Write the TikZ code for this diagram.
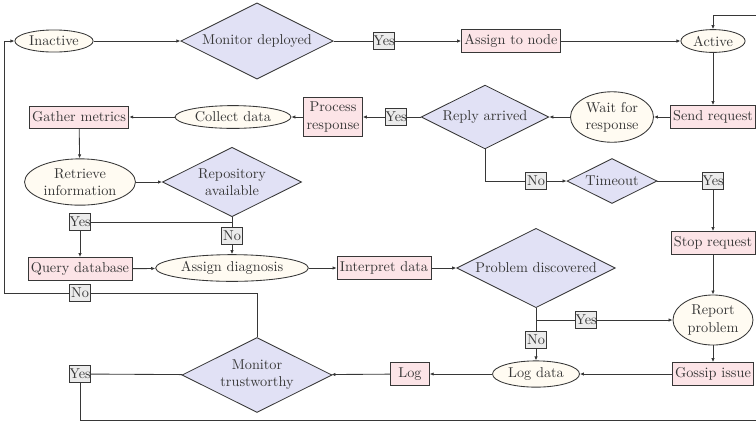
\documentclass[tikz,border=0pt]{standalone}
\usetikzlibrary{shapes.geometric,arrows.meta}
\definecolor{dfill}{RGB}{225,225,245}
\definecolor{rfill}{RGB}{252,228,231}
\definecolor{efill}{RGB}{255,251,242}
\definecolor{lfill}{RGB}{235,235,235}
\definecolor{ink}{RGB}{55,55,55}
\tikzset{
  base/.style={draw=ink,line width=0.6pt,text=ink,font=\fontsize{10}{12}\selectfont,align=center},
  decision/.style={base,diamond,aspect=2,fill=dfill,inner sep=2pt},
  proc/.style={base,rectangle,fill=rfill,inner xsep=2pt,inner ysep=3.5pt,minimum height=15.5pt,minimum width=27pt},
  stat/.style={base,ellipse,fill=efill,inner sep=2pt},
  lab/.style={base,rectangle,fill=lfill,inner xsep=-0.6pt,inner ysep=1.5pt,minimum width=14.5pt,minimum height=12pt},
  conn/.style={draw=ink,line width=0.6pt},
  arr/.style={conn,-{Latex[length=2.8pt,width=2.4pt]}}
}
\begin{document}
\begin{tikzpicture}[x=0.7pt,y=-0.7pt]
\useasboundingbox (0,0) rectangle (756,422);
% nodes
\node[stat] (inactive) at (54,41) {Inactive};
\node[decision] (mondep) at (257,41) {Monitor deployed};
\node[lab] (yes1) at (384,41) {Yes};
\node[proc] (assign) at (511,41) {Assign to node};
\node[stat] (active) at (713,41) {Active};

\node[proc] (gather) at (79,117) {Gather metrics};
\node[stat] (collect) at (233,117) {Collect data};
\node[proc] (process) at (333,117) {Process\\response};
\node[lab] (yes2) at (396,117) {Yes};
\node[decision] (reply) at (485,117) {Reply arrived};
\node[stat] (wait) at (612,117) {Wait for\\response};
\node[proc] (send) at (713,117) {Send request};

\node[stat] (retrieve) at (80,182) {Retrieve\\information};
\node[decision] (repo) at (232,182) {Repository\\available};
\node[lab] (no2) at (536,181) {No};
\node[decision] (timeout) at (612,181) {Timeout};
\node[lab] (yes4) at (713,181) {Yes};

\node[lab] (yes3) at (80,222) {Yes};
\node[lab] (no1) at (232,236) {No};
\node[proc] (stop) at (713,243) {Stop request};

\node[proc] (query) at (80,269) {Query database};
\node[stat] (diag) at (232,268) {Assign diagnosis};
\node[proc] (interp) at (384,268) {Interpret data};
\node[decision] (prob) at (536,268) {Problem discovered};

\node[lab] (no4) at (80,293) {No};
\node[lab] (yes5) at (586,320) {Yes};
\node[stat] (report) at (713,320) {Report\\problem};
\node[lab] (no3) at (536,340) {No};

\node[lab] (yes6) at (80,374) {Yes};
\node[decision] (trust) at (257,375) {Monitor\\trustworthy};
\node[proc] (log) at (410,374) {Log};
\node[stat] (logdata) at (536,374) {Log data};
\node[proc] (gossip) at (713,374) {Gossip issue};

\coordinate (botL) at (80,420);
\coordinate (botR) at (800,420);
\coordinate (topR) at (800,15);
\coordinate (topA) at (713,15);
\coordinate (leftB) at (4,293);

% connectors
\draw[arr] (inactive) -- (mondep);
\draw[conn] (mondep) -- (yes1);
\draw[arr] (yes1) -- (assign);
\draw[arr] (assign) -- (active);
\draw[arr] (active) -- (send);
\draw[arr] (send) -- (wait);
\draw[arr] (wait) -- (reply);
\draw[conn] (reply) -- (yes2);
\draw[arr] (yes2) -- (process);
\draw[arr] (process) -- (collect);
\draw[arr] (collect) -- (gather);
\draw[arr] (gather) -- (retrieve);
\draw[arr] (retrieve) -- (repo);
\draw[conn] (repo.south) -- (no1);
\draw[arr] (no1) -- (diag);
\draw[conn] (repo.south |- yes3) -- (yes3);
\draw[arr] (yes3) -- (query);
\draw[arr] (query) -- (diag);
\draw[arr] (diag) -- (interp);
\draw[arr] (interp) -- (prob);
\draw[conn] (reply.south) |- (no2);
\draw[arr] (no2) -- (timeout);
\draw[conn] (timeout) -- (yes4);
\draw[arr] (yes4) -- (stop);
\draw[arr] (stop) -- (report);
\draw[conn] (prob.south) -- (no3);
\draw[arr] (no3) -- (logdata);
\draw[conn] (prob.south |- yes5) -- (yes5);
\draw[arr] (yes5) -- (report);
\draw[arr] (report) -- (gossip);
\draw[arr] (gossip) -- (logdata);
\draw[arr] (logdata) -- (log);
\draw[arr] (log) -- (trust);
\draw[conn] (trust) -- (yes6);
\draw[arr] (yes6) -- (botL) -- (botR) -- (topR) -- (topA) -- (active);
\draw[conn] (trust.north) |- (no4);
\draw[arr] (no4) -- (leftB) |- (inactive);
\end{tikzpicture}
\end{document}
